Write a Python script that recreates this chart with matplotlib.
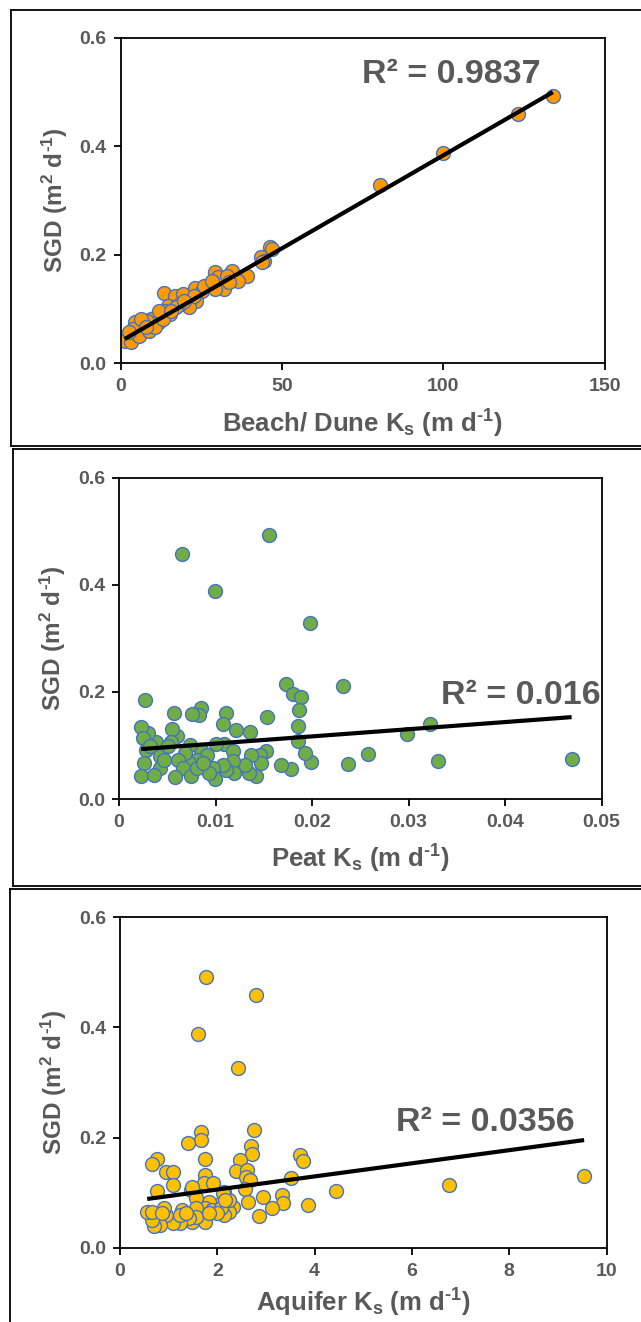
import matplotlib
matplotlib.use("Agg")
import matplotlib.pyplot as plt
from matplotlib.lines import Line2D
import numpy as np

plt.rcParams['font.family'] = ['Liberation Sans', 'DejaVu Sans']
plt.rcParams['font.weight'] = 'bold'
plt.rcParams['mathtext.fontset'] = 'custom'
plt.rcParams['mathtext.rm'] = 'Liberation Sans:bold'
plt.rcParams['mathtext.it'] = 'Liberation Sans:bold'
plt.rcParams['mathtext.bf'] = 'Liberation Sans:bold'

# ---------------- data ----------------
beach_ks = [134.0, 123.1, 99.9, 80.3, 46.3, 46.9, 43.4, 44.4, 43.7, 34.6, 29.2, 30.2, 33.0, 39.3,
            36.5, 32.1, 29.2, 23.2, 25.4, 13.6, 16.9, 19.4, 23.5, 21.2, 21.3, 18.4, 16.1, 14.6,
            13.9, 15.2, 12.7, 12.0, 11.2, 9.5, 10.5, 8.2, 7.0, 7.6, 5.7, 4.4, 3.8, 2.9, 1.9, 1.3,
            3.2, 5.7, 8.9, 10.8, 13.3, 17.1, 22.8, 26.0, 28.5, 33.6, 2.5, 6.3, 8.0, 12.0, 15.8, 19.7]
beach_sgd = [0.4926, 0.4595, 0.388, 0.3286, 0.215, 0.210, 0.196, 0.189, 0.186, 0.170, 0.168, 0.158,
             0.161, 0.161, 0.152, 0.136, 0.136, 0.139, 0.133, 0.130, 0.124, 0.127, 0.115, 0.115,
             0.103, 0.109, 0.103, 0.106, 0.0964, 0.090, 0.087, 0.075, 0.087, 0.081, 0.072, 0.078,
             0.072, 0.060, 0.066, 0.075, 0.063, 0.053, 0.044, 0.041, 0.038, 0.050, 0.060, 0.066,
             0.081, 0.103, 0.124, 0.142, 0.152, 0.149, 0.0565, 0.081, 0.066, 0.096, 0.096, 0.115]

peat_ks = [0.01555, 0.00653, 0.00996, 0.01979, 0.01729, 0.02322, 0.01805, 0.01881, 0.01869, 0.00271,
           0.0322, 0.0469, 0.0298, 0.0331, 0.0258, 0.0237, 0.0199, 0.0193, 0.0185, 0.0185, 0.0178,
           0.0168, 0.0153, 0.0152, 0.0146, 0.0147, 0.0142, 0.0135, 0.0137, 0.0136, 0.0131, 0.0121,
           0.0111, 0.0108, 0.0109, 0.0118, 0.0118, 0.0119, 0.0111, 0.0108, 0.0101, 0.00975, 0.00996,
           0.0093, 0.0085, 0.0083, 0.0076, 0.0057, 0.0085, 0.0091, 0.0074, 0.0081, 0.0073, 0.0068,
           0.0060, 0.0055, 0.0054, 0.0061, 0.0066, 0.0075, 0.0058, 0.0042, 0.0042, 0.0038, 0.0030,
           0.0023, 0.0025, 0.0028, 0.0026, 0.0023, 0.0036, 0.0047, 0.0051, 0.0032, 0.0081, 0.0087]
peat_sgd = [0.4925, 0.458, 0.389, 0.328, 0.214, 0.211, 0.196, 0.191, 0.166, 0.185,
            0.140, 0.0745, 0.122, 0.0702, 0.0845, 0.0658, 0.0683, 0.0857, 0.109, 0.137, 0.0559,
            0.064, 0.153, 0.0888, 0.0826, 0.067, 0.042, 0.048, 0.0826, 0.125, 0.064, 0.129,
            0.160, 0.140, 0.102, 0.0888, 0.070, 0.048, 0.055, 0.064, 0.103, 0.058, 0.037,
            0.048, 0.170, 0.157, 0.159, 0.160, 0.092, 0.083, 0.101, 0.073, 0.068, 0.086,
            0.117, 0.130, 0.107, 0.073, 0.058, 0.042, 0.041, 0.058, 0.080, 0.107, 0.123,
            0.135, 0.114, 0.092, 0.068, 0.042, 0.045, 0.073, 0.098, 0.098, 0.058, 0.067]

aquifer_ks = [1.76, 2.80, 1.61, 2.43, 2.75, 1.67, 1.67, 1.39, 2.70, 2.71, 3.70, 3.76, 2.46, 1.75,
              0.77, 0.66, 0.95, 1.08, 1.08, 0.77, 2.39, 2.62, 2.60, 2.68, 3.52, 1.74, 1.72, 1.92,
              1.45, 1.49, 2.14, 2.56, 4.43, 6.76, 9.54, 3.33, 3.36, 2.93, 2.63, 3.87, 3.13, 2.86,
              2.33, 2.24, 2.14, 2.24, 2.00, 1.82, 1.74, 1.57, 1.57, 1.74, 1.49, 1.57, 1.42, 1.28,
              1.24, 1.08, 0.94, 0.90, 0.82, 0.69, 0.65, 0.56, 0.66, 0.86, 1.90, 2.08, 2.00, 1.24,
              1.36, 1.82, 2.11, 2.16]
aquifer_sgd = [0.492, 0.459, 0.388, 0.327, 0.214, 0.211, 0.196, 0.191, 0.185, 0.170, 0.168, 0.158,
               0.159, 0.161, 0.161, 0.152, 0.137, 0.137, 0.114, 0.104, 0.140, 0.141, 0.128, 0.123,
               0.126, 0.132, 0.117, 0.117, 0.105, 0.111, 0.102, 0.107, 0.104, 0.114, 0.131, 0.096,
               0.081, 0.092, 0.084, 0.078, 0.072, 0.058, 0.075, 0.066, 0.060, 0.087, 0.078, 0.084,
               0.072, 0.090, 0.072, 0.048, 0.048, 0.057, 0.055, 0.069, 0.045, 0.045, 0.060, 0.072,
               0.042, 0.039, 0.051, 0.066, 0.066, 0.063, 0.069, 0.072, 0.063, 0.060, 0.063, 0.063,
               0.099, 0.087]

# linear trendline coefficients (slope, intercept) and R² labels
beach_fit = [0.003435, 0.0398]
peat_fit = [1.337, 0.0901]
aquifer_fit = [0.01189, 0.0822]
r2_labels = ["R² = 0.9837", "R² = 0.016", "R² = 0.0356"]

x_labels = [r"Beach/ Dune K$_{\mathrm{s}}$ (m d$^{\text{-1}}$)",
            r"Peat K$_{\mathrm{s}}$ (m d$^{\text{-1}}$)",
            r"Aquifer K$_{\mathrm{s}}$ (m d$^{\text{-1}}$)"]
y_label = r"SGD (m$^{\mathrm{2}}$ d$^{\text{-1}}$)"
x_ticks = [[0, 50, 100, 150], [0, 0.01, 0.02, 0.03, 0.04, 0.05], [0, 2, 4, 6, 8, 10]]
x_tick_labels = [["0", "50", "100", "150"], ["0", "0.01", "0.02", "0.03", "0.04", "0.05"],
                 ["0", "2", "4", "6", "8", "10"]]
y_ticks = [0.0, 0.2, 0.4, 0.6]
y_tick_labels = ["0.0", "0.2", "0.4", "0.6"]

colors = ["#FF9900", "#70AD47", "#FFC000"]
edge = "#4472C4"
grey = "#595959"

W, H = 641, 1322
fig = plt.figure(figsize=(W / 100, H / 100), dpi=100)

# axes boxes in pixels: left, right, top, bottom
boxes = [(120.5, 604.5, 38, 363), (119, 601.5, 477.5, 799), (120, 606.5, 917, 1248)]
r2_pos = [(362, 83), (441, 704), (396, 1131)]  # left, baseline (pixels)
xlabel_pads = [9, 8, 5]
datasets = [(beach_ks, beach_sgd, beach_fit), (peat_ks, peat_sgd, peat_fit),
            (aquifer_ks, aquifer_sgd, aquifer_fit)]

for i, ((xs, ys, fit), (l, r, t, b)) in enumerate(zip(datasets, boxes)):
    ax = fig.add_axes([l / W, 1 - b / H, (r - l) / W, (b - t) / H])
    ax.scatter(xs, ys, s=100, c=colors[i], edgecolors=edge, linewidths=1.0, zorder=2)
    xl = np.array([min(xs), max(xs)])
    ax.plot(xl, fit[0] * xl + fit[1], color="black", lw=3.0, zorder=3, solid_capstyle='butt')
    ax.set_xlim(x_ticks[i][0], x_ticks[i][-1])
    ax.set_ylim(0, 0.6)
    ax.set_xticks(x_ticks[i])
    ax.set_xticklabels(x_tick_labels[i])
    ax.set_yticks(y_ticks)
    ax.set_yticklabels(y_tick_labels)
    ax.tick_params(axis='both', direction='out', length=5, width=1.3, color='black',
                   labelsize=14, labelcolor=grey)
    ax.tick_params(axis='x', pad=6)
    ax.tick_params(axis='y', pad=5)
    for sp in ax.spines.values():
        sp.set_linewidth(1.3)
        sp.set_color('black')
    ax.set_xlabel(x_labels[i], fontsize=18.5, color=grey, fontweight='bold',
                  labelpad=xlabel_pads[i])
    ax.set_ylabel(y_label, fontsize=17.5, color=grey, fontweight='bold', labelpad=7)
    px, py = r2_pos[i]
    fig.text(px / W, 1 - py / H, r2_labels[i], fontsize=24.5, color=grey, fontweight='bold',
             ha='left', va='baseline')

# panel borders
def hline(y, x0, x1):
    fig.add_artist(Line2D([x0 / W, x1 / W], [1 - y / H, 1 - y / H], color='black', lw=1.3))

def vline(x, y0, y1):
    fig.add_artist(Line2D([x / W, x / W], [1 - y0 / H, 1 - y1 / H], color='black', lw=1.3))

hline(10, 11, W); vline(11, 10, 446); hline(446, 11, W)
hline(449, 13, W); vline(13, 449, 886); hline(886, 13, W)
hline(889, 10, W); vline(10, 889, H)

fig.savefig("out.png", dpi=100)
